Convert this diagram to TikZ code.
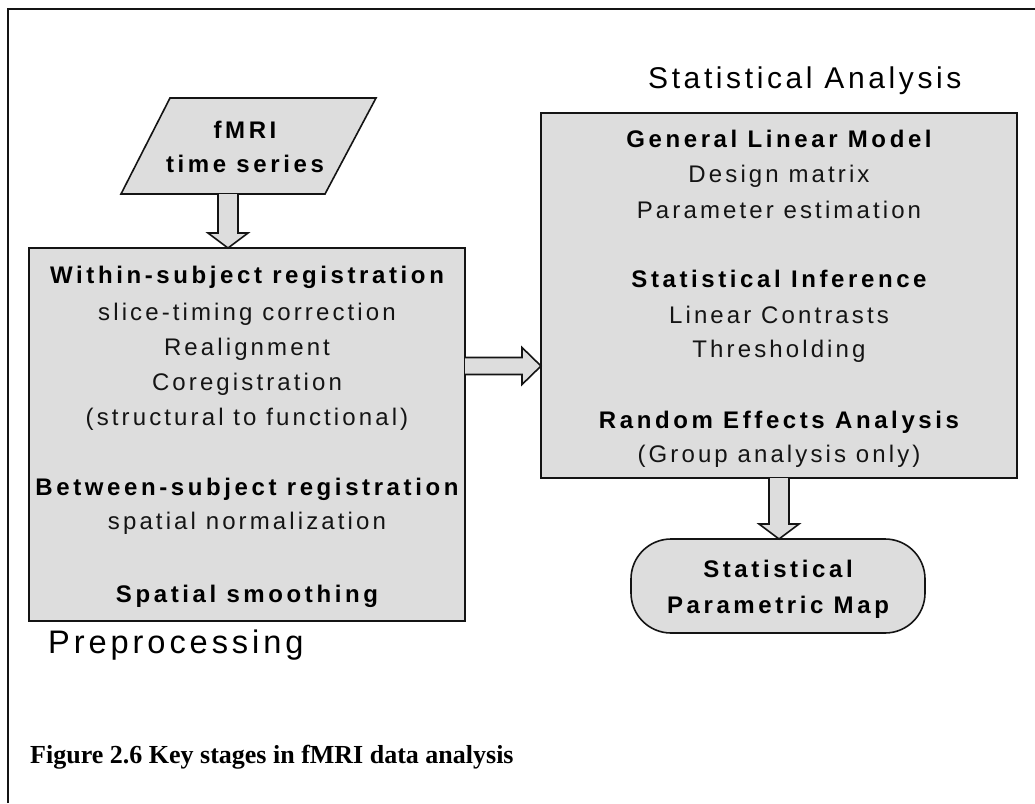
\documentclass[tikz,border=0pt]{standalone}
\usepackage{fontspec}
\setmainfont{Liberation Sans}
\newfontfamily\capfont{Liberation Serif}
\usetikzlibrary{calc}
\definecolor{boxgray}{RGB}{221,221,221}
\definecolor{inkgray}{RGB}{20,20,20}
\newcommand{\blkdown}[2]{\draw[barrow] ($(#1)+(-10,0)$) -- ($(#2)+(-10,-15)$) -- ($(#2)+(-20,-15)$) -- (#2) -- ($(#2)+(20,-15)$) -- ($(#2)+(10,-15)$) -- ($(#1)+(10,0)$);}
\tikzset{
  box/.style={draw=inkgray, fill=boxgray, line width=1.6pt, inner sep=0pt, outer sep=0pt},
  barrow/.style={draw=inkgray, fill=boxgray, line width=1.6pt, line join=miter},
  txt/.style={anchor=base, inner sep=0pt, text=inkgray, font=\fontsize{24}{28}\selectfont\addfontfeatures{LetterSpace=13}},
  btxt/.style={anchor=base, inner sep=0pt, text=black, font=\fontsize{24}{28}\selectfont\bfseries\addfontfeatures{LetterSpace=15}},
  frame/.style={draw=inkgray, line width=1.6pt}
}
\begin{document}
\begin{tikzpicture}[x=1pt,y=-1pt]
\useasboundingbox (0,0) rectangle (1035,803);
\fill[white] (0,0) rectangle (1035,803);
\draw[frame] (8,803) -- (8,9) -- (1035,9);

% boxes
\draw[box] (170,98) -- (376,98) -- (325,194) -- (121,194) -- cycle;
\coordinate (fmriout) at (228,194);
\node[box, minimum width=436pt, minimum height=373pt] (pre) at (247,434.5) {};
\node[box, minimum width=476pt, minimum height=365pt] (stat) at (779,295.5) {};
\node[box, rounded corners=40pt, minimum width=294pt, minimum height=94pt] (spm) at (778,586) {};

% block arrows
\blkdown{fmriout}{fmriout |- pre.north}
\coordinate (ha) at (pre.east |- 0,366);
\coordinate (hb) at (stat.west |- 0,366);
\draw[barrow] ($(ha)+(0,-8.5)$) -- ($(hb)+(-19,-8.5)$) -- ($(hb)+(-19,-18.5)$) -- (hb) -- ($(hb)+(-19,18.5)$) -- ($(hb)+(-19,8.5)$) -- ($(ha)+(0,8.5)$);
\blkdown{stat.south}{stat.south |- spm.north}

% parallelogram text
\node[btxt] (f1) at (245,138) {fMRI};
\node[btxt] (f2) at (245,172) {time series};

% left box text
\node[btxt] (l1) at (247,283) {Within-subject registration};
\node[txt] (l2) at (247,320) {slice-timing correction};
\node[txt] (l3) at (247,355) {Realignment};
\node[txt] (l4) at (247,390) {Coregistration};
\node[txt] (l5) at (247,425) {(structural to functional)};
\node[btxt] (l6) at (247,495) {Between-subject registration};
\node[txt] (l7) at (247,529) {spatial normalization};
\node[btxt] (l8) at (247,602) {Spatial smoothing};

% right box text
\node[btxt] (r1) at (779,147) {General Linear Model};
\node[txt] (r2) at (779,182) {Design matrix};
\node[txt] (r3) at (779,218) {Parameter estimation};
\node[btxt] (r4) at (779,287) {Statistical Inference};
\node[txt] (r5) at (779,323) {Linear Contrasts};
\node[txt] (r6) at (779,357) {Thresholding};
\node[btxt] (r7) at (779,428) {Random Effects Analysis};
\node[txt] (r8) at (779,462) {(Group analysis only)};

% terminal text
\node[btxt] (s1) at (778,577) {Statistical};
\node[btxt] (s2) at (778,613) {Parametric Map};

% labels
\node[anchor=base west, inner sep=0pt, text=black, font=\fontsize{30}{36}\selectfont\addfontfeatures{LetterSpace=12}] (title) at (648,88) {Statistical Analysis};
\node[anchor=base west, inner sep=0pt, text=black, font=\fontsize{32.6}{38}\selectfont\addfontfeatures{LetterSpace=12}] (prep) at (48,653) {Preprocessing};
\node[anchor=base west, inner sep=0pt, text=black, font=\capfont\bfseries\fontsize{26}{30}\selectfont] (cap) at (30,763) {Figure 2.6 Key stages in fMRI data analysis};
\end{tikzpicture}
\end{document}
